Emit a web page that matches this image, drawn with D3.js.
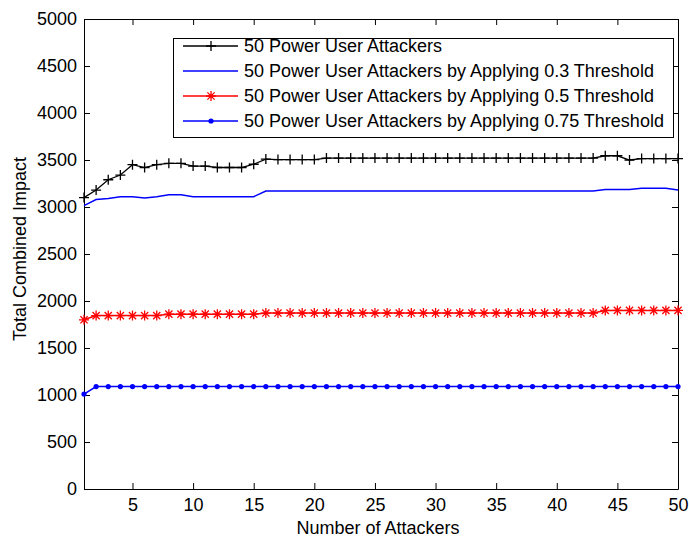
<!DOCTYPE html>
<html>
<head>
<meta charset="utf-8">
<script src="https://cdn.jsdelivr.net/npm/d3@7/dist/d3.min.js"></script>
<style>
  body { margin: 0; background: #fff; }
  svg { display: block; }
  text { font-family: "Liberation Sans", Arial, sans-serif; fill: #000; }
</style>
</head>
<body>
<svg id="chart" width="689" height="537"></svg>
<script>
// Number of attackers (x axis)
const attackers = [1,2,3,4,5,6,7,8,9,10,11,12,13,14,15,16,17,18,19,20,
                   21,22,23,24,25,26,27,28,29,30,31,32,33,34,35,36,37,38,39,40,
                   41,42,43,44,45,46,47,48,49,50];

// Total combined impact per series
const powerUsers = [3100,3180,3290,3340,3450,3420,3450,3465,3465,3435,
                    3435,3420,3420,3420,3455,3510,3505,3505,3505,3505,
                    3520,3520,3520,3520,3520,3520,3520,3520,3520,3520,
                    3520,3520,3520,3520,3520,3520,3520,3520,3520,3520,
                    3520,3520,3520,3545,3545,3500,3515,3515,3515,3515];
const threshold03 = [3015,3080,3090,3110,3110,3095,3110,3130,3130,3110,
                     3110,3110,3110,3110,3110,3170,3170,3170,3170,3170,
                     3170,3170,3170,3170,3170,3170,3170,3170,3170,3170,
                     3170,3170,3170,3170,3170,3170,3170,3170,3170,3170,
                     3170,3170,3170,3185,3185,3185,3200,3200,3200,3180];
const threshold05 = [1800,1845,1845,1845,1845,1845,1845,1860,1860,1860,
                     1860,1860,1860,1860,1860,1872,1872,1872,1872,1872,
                     1872,1872,1872,1872,1872,1872,1872,1872,1872,1872,
                     1872,1872,1872,1872,1872,1872,1872,1872,1872,1872,
                     1872,1872,1872,1900,1900,1900,1900,1900,1900,1900];
const threshold075 = [1010,1090,1090,1090,1090,1090,1090,1090,1090,1090,
                      1090,1090,1090,1090,1090,1090,1090,1090,1090,1090,
                      1090,1090,1090,1090,1090,1090,1090,1090,1090,1090,
                      1090,1090,1090,1090,1090,1090,1090,1090,1090,1090,
                      1090,1090,1090,1090,1090,1090,1090,1090,1090,1090];

const xTicks = [5,10,15,20,25,30,35,40,45,50];
const yTicks = [0,500,1000,1500,2000,2500,3000,3500,4000,4500,5000];

const seriesNames = [
  "50 Power User Attackers",
  "50 Power User Attackers by Applying 0.3 Threshold",
  "50 Power User Attackers by Applying 0.5 Threshold",
  "50 Power User Attackers by Applying 0.75 Threshold"
];

const series = [
  { name: seriesNames[0], values: powerUsers,   color: "#000000", marker: "plus" },
  { name: seriesNames[1], values: threshold03,  color: "#0000ff", marker: "none" },
  { name: seriesNames[2], values: threshold05,  color: "#ff0000", marker: "star" },
  { name: seriesNames[3], values: threshold075, color: "#0000ff", marker: "dot" }
];

const svg = d3.select("#chart");
const plotLeft = 84, plotRight = 678, plotTop = 19, plotBottom = 489;
const FS = "18px";

const x = d3.scaleLinear().domain([1, 50]).range([plotLeft, plotRight]);
const y = d3.scaleLinear().domain([0, 5000]).range([plotBottom, plotTop]);
const fmt = d3.format("d");

// Axes with inward ticks on all four sides
function styleAxis(g) {
  g.selectAll("path.domain").attr("stroke", "#000").attr("stroke-width", 1);
  g.selectAll(".tick line").attr("stroke", "#000").attr("stroke-width", 1);
  g.selectAll("text").attr("font-size", FS).attr("font-family", '"Liberation Sans", Arial, sans-serif').attr("fill", "#000");
}

svg.append("g").attr("transform", `translate(0,${plotBottom})`)
  .call(d3.axisBottom(x).tickValues(xTicks).tickFormat(fmt).tickSizeInner(-6).tickSizeOuter(0).tickPadding(9))
  .call(styleAxis);
svg.append("g").attr("transform", `translate(0,${plotTop})`)
  .call(d3.axisTop(x).tickValues(xTicks).tickSizeInner(-6).tickSizeOuter(0).tickFormat(""))
  .call(styleAxis);
svg.append("g").attr("transform", `translate(${plotLeft},0)`)
  .call(d3.axisLeft(y).tickValues(yTicks).tickFormat(fmt).tickSizeInner(-6).tickSizeOuter(0).tickPadding(7))
  .call(styleAxis);
svg.append("g").attr("transform", `translate(${plotRight},0)`)
  .call(d3.axisRight(y).tickValues(yTicks).tickSizeInner(-6).tickSizeOuter(0).tickFormat(""))
  .call(styleAxis);

// Marker drawing
function drawMarker(g, kind, cx, cy, color) {
  if (kind === "plus") {
    const s = 5;
    g.append("path").attr("d", `M${cx - s},${cy}H${cx + s}M${cx},${cy - s}V${cy + s}`)
      .attr("stroke", color).attr("stroke-width", 1.3).attr("fill", "none");
  } else if (kind === "star") {
    const s = 5, d = 3.6;
    g.append("path")
      .attr("d", `M${cx - s},${cy}H${cx + s}M${cx},${cy - s}V${cy + s}` +
                 `M${cx - d},${cy - d}L${cx + d},${cy + d}M${cx - d},${cy + d}L${cx + d},${cy - d}`)
      .attr("stroke", color).attr("stroke-width", 1.3).attr("fill", "none");
  } else if (kind === "dot") {
    g.append("circle").attr("cx", cx).attr("cy", cy).attr("r", 2.6).attr("fill", color);
  }
}

const line = d3.line().x((d, i) => x(attackers[i])).y(d => y(d));

const plot = svg.append("g");
series.forEach(s => {
  plot.append("path").datum(s.values).attr("d", line)
    .attr("fill", "none").attr("stroke", s.color)
    .attr("stroke-width", s.marker === "plus" ? 1.3 : 1.5);
  const mg = plot.append("g");
  s.values.forEach((v, i) => drawMarker(mg, s.marker, x(attackers[i]), y(v), s.color));
});

// Legend
const lg = svg.append("g");
lg.append("rect").attr("x", 173.5).attr("y", 38.5).attr("width", 500).attr("height", 99)
  .attr("fill", "#fff").attr("stroke", "#000").attr("stroke-width", 1);
series.forEach((s, i) => {
  const cy = 46 + i * 25;
  lg.append("line").attr("x1", 183).attr("x2", 238).attr("y1", cy).attr("y2", cy)
    .attr("stroke", s.color).attr("stroke-width", s.marker === "plus" ? 1.3 : 1.5);
  drawMarker(lg, s.marker, 211, cy, s.color);
  lg.append("text").attr("x", 244).attr("y", cy).attr("dy", "0.36em")
    .attr("font-size", FS).text(s.name);
});

// Axis titles
svg.append("text").attr("x", 378).attr("y", 528).attr("dy", "0.36em")
  .attr("text-anchor", "middle").attr("font-size", FS).text("Number of Attackers");
svg.append("text").attr("transform", "translate(20,249) rotate(-90)")
  .attr("dy", "0.36em").attr("text-anchor", "middle").attr("font-size", FS)
  .text("Total Combined Impact");
</script>
</body>
</html>
